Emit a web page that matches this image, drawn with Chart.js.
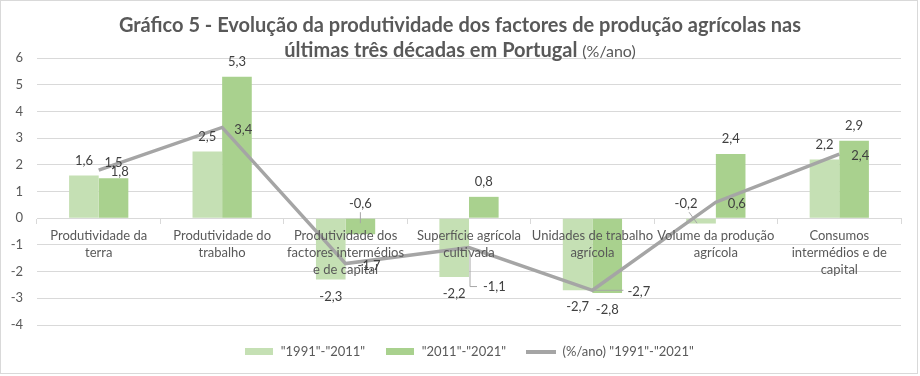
<!DOCTYPE html>
<html lang="pt">
<head>
    <meta charset="UTF-8">
    <title>Gráfico 5 - Evolução da produtividade</title>
    <script src="https://cdn.jsdelivr.net/npm/chart.js"></script>
    <style>
        body { margin: 0; background: #fff; }
        .frame { position: relative; width: 920px; height: 376px; }
        .border {
            position: absolute; left: 0; top: 0;
            width: 918px; height: 374px;
            box-sizing: border-box;
            border: 1px solid #d9d9d9;
        }
        .title {
            position: absolute; left: 0; top: 12px; width: 920px;
            text-align: center;
            font-family: Lato, sans-serif; font-weight: bold;
            font-size: 20px; line-height: 25px; color: #595959;
        }
        .title span { font-weight: normal; font-size: 16px; }
        canvas { position: absolute; left: 0; top: 0; }
    </style>
</head>
<body>
<div class="frame">
    <div class="border"></div>
    <canvas id="chart" width="920" height="376"></canvas>
    <div class="title">Gráfico 5 - Evolução da produtividade dos factores de produção agrícolas nas<br>últimas três décadas em Portugal <span>(%/ano)</span></div>
</div>
<script>
    // categories and series
    const categories = [
        ['Produtividade da', 'terra'],
        ['Produtividade do', 'trabalho'],
        ['Produtividade dos', 'factores intermédios', 'e de capital'],
        ['Superfície agrícola', 'cultivada'],
        ['Unidades de trabalho', 'agrícola'],
        ['Volume da produção', 'agrícola'],
        ['Consumos', 'intermédios e de', 'capital']
    ];
    const period1991_2011 = [1.6, 2.5, -2.3, -2.2, -2.7, -0.2, 2.2];
    const period2011_2021 = [1.5, 5.3, -0.6, 0.8, -2.8, 2.4, 2.9];
    const perYear1991_2021 = [1.8, 3.4, -1.7, -1.1, -2.7, 0.6, 2.4];
    const seriesNames = ['"1991"-"2011"', '"2011"-"2021"', '(%/ano) "1991"-"2021"'];
    const yMin = -4, yMax = 6, yStep = 1;

    const lightGreen = '#c5e0b4';
    const darkGreen = '#a9d18e';
    const lineGrey = '#a5a5a5';
    const textGrey = '#595959';
    const gridGrey = '#d9d9d9';
    const font = 'Lato, sans-serif';

    // labels that were dragged by hand in the original (pixel nudges)
    const labelNudges = {
        '0:5': { dx: -15 },
        '2:3': { dx: 2, dy: 37 },
        '2:4': { dx: 23, dy: 0 }
    };

    function fmt(v) {
        return v.toFixed(1).replace('.', ',');
    }

    function legendIcon(color, w, h) {
        const c = document.createElement('canvas');
        c.width = w; c.height = h;
        const g = c.getContext('2d');
        g.fillStyle = color;
        g.fillRect(0, 0, w, h);
        return c;
    }
    const legendIcons = [
        legendIcon(lightGreen, 28, 7),
        legendIcon(darkGreen, 28, 7),
        legendIcon(lineGrey, 30, 4)
    ];

    const valueLabels = {
        id: 'valueLabels',
        afterDraw(chart) {
            const ctx = chart.ctx;
            const zeroY = chart.scales.y.getPixelForValue(0);
            ctx.save();
            ctx.font = '13px ' + font;
            ctx.fillStyle = '#404040';
            ctx.strokeStyle = '#a6a6a6';
            ctx.lineWidth = 1;
            ctx.textBaseline = 'middle';
            chart.data.datasets.forEach((ds, di) => {
                const meta = chart.getDatasetMeta(di);
                meta.data.forEach((el, i) => {
                    const v = ds.data[i];
                    const nudge = labelNudges[di + ':' + i] || {};
                    const dx = nudge.dx || 0, dy = nudge.dy || 0;
                    if (meta.type === 'line') {
                        const lx = el.x + 12 + dx, ly = el.y + 2 + dy;
                        if (dx || dy) {
                            ctx.beginPath();
                            if (dy) {
                                ctx.moveTo(el.x + 1, el.y + 4);
                                ctx.lineTo(el.x + 1, ly);
                                ctx.lineTo(lx - 6, ly);
                            } else {
                                ctx.moveTo(el.x + 2, el.y);
                                ctx.lineTo(lx - 4, el.y);
                            }
                            ctx.stroke();
                        }
                        ctx.textAlign = 'left';
                        ctx.fillText(fmt(v), lx, ly);
                    } else {
                        ctx.textAlign = 'center';
                        let lx = el.x + dx, ly;
                        if (v >= 0) {
                            ly = el.y - 15;
                        } else if (v > -1) {
                            // small negatives were moved above the axis
                            ly = zeroY - 14;
                            ctx.beginPath();
                            ctx.moveTo(lx + (dx ? 3 : 0), ly + 8);
                            ctx.lineTo(el.x - (dx ? 4 : 0), zeroY + 5);
                            ctx.stroke();
                        } else {
                            ly = el.y + 17;
                        }
                        ctx.fillText(fmt(v), lx, ly);
                    }
                });
            });
            ctx.restore();
        }
    };

    new Chart(document.getElementById('chart'), {
        type: 'bar',
        data: {
            labels: categories,
            datasets: [
                {
                    label: seriesNames[0],
                    data: period1991_2011,
                    backgroundColor: lightGreen,
                    categoryPercentage: 0.48,
                    barPercentage: 1,
                    order: 1
                },
                {
                    label: seriesNames[1],
                    data: period2011_2021,
                    backgroundColor: darkGreen,
                    categoryPercentage: 0.48,
                    barPercentage: 1,
                    order: 1
                },
                {
                    type: 'line',
                    label: seriesNames[2],
                    data: perYear1991_2021,
                    borderColor: lineGrey,
                    backgroundColor: lineGrey,
                    borderWidth: 3.5,
                    pointRadius: 0,
                    tension: 0,
                    order: 0
                }
            ]
        },
        options: {
            responsive: false,
            animation: false,
            devicePixelRatio: 1,
            layout: { padding: { top: 58, right: 19, bottom: 8, left: 0 } },
            plugins: {
                tooltip: { enabled: false },
                legend: {
                    position: 'bottom',
                    fullSize: false,
                    labels: {
                        usePointStyle: true,
                        pointStyleWidth: 30,
                        padding: 20,
                        color: textGrey,
                        font: { family: font, size: 13 },
                        sort: (a, b) => a.datasetIndex - b.datasetIndex,
                        generateLabels(chart) {
                            const items = Chart.defaults.plugins.legend.labels.generateLabels(chart);
                            items.forEach(it => { it.pointStyle = legendIcons[it.datasetIndex]; });
                            return items;
                        }
                    }
                }
            },
            scales: {
                x: {
                    position: { y: 0 },
                    afterFit(s) { s.height = 0; },
                    grid: {
                        display: true,
                        drawOnChartArea: false,
                        drawTicks: true,
                        tickLength: 5,
                        color: gridGrey,
                        offset: true
                    },
                    border: { display: true, color: gridGrey },
                    ticks: {
                        z: 1,
                        color: textGrey,
                        font: { family: font, size: 13, lineHeight: 1.3 },
                        padding: 4,
                        maxRotation: 0,
                        autoSkip: false
                    }
                },
                y: {
                    min: yMin,
                    max: yMax,
                    afterFit(s) { s.width = 37; },
                    grid: { color: gridGrey, drawTicks: false },
                    border: { display: false },
                    ticks: {
                        stepSize: yStep,
                        color: textGrey,
                        padding: 14,
                        font: { family: font, size: 13 }
                    }
                }
            }
        },
        plugins: [valueLabels]
    });
</script>
</body>
</html>
